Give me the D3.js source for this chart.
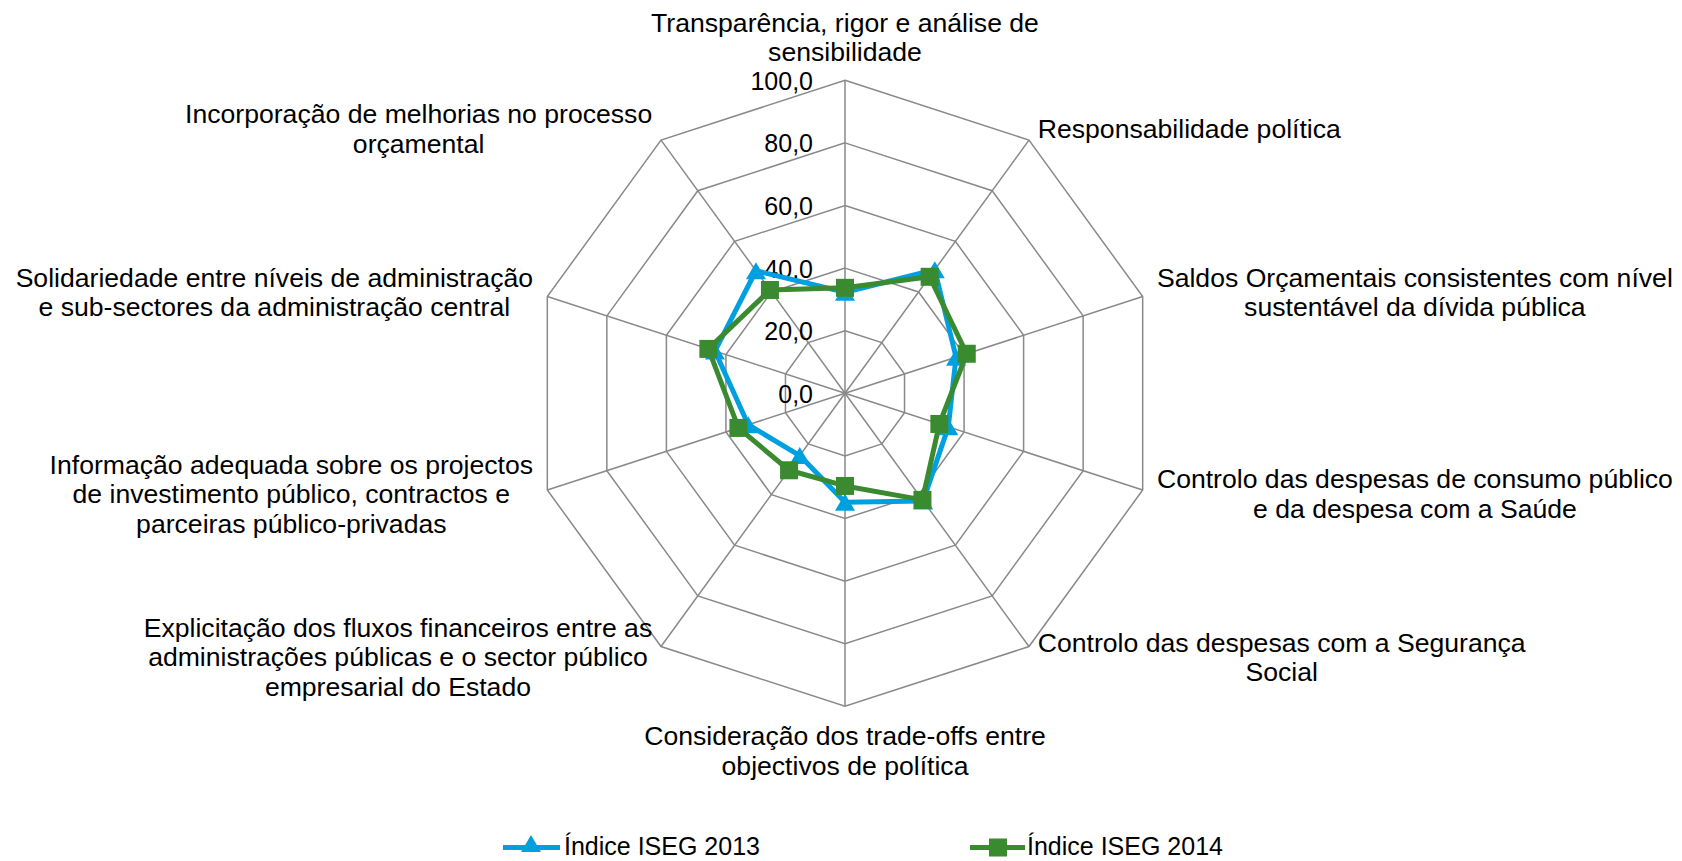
<!DOCTYPE html>
<html>
<head>
<meta charset="utf-8">
<script src="https://cdn.jsdelivr.net/npm/d3@7"></script>
<style>
html, body { margin: 0; padding: 0; background: #ffffff; }
svg { display: block; }
text { font-family: "Liberation Sans", Arial, sans-serif; fill: #000; }
</style>
</head>
<body>
<svg id="chart" width="1682" height="861"></svg>
<script>
const categories = [
  ["Transparência, rigor e análise de", "sensibilidade"],
  ["Responsabilidade política"],
  ["Saldos Orçamentais consistentes com nível", "sustentável da dívida pública"],
  ["Controlo das despesas de consumo público", "e da despesa com a Saúde"],
  ["Controlo das despesas com a Segurança", "Social"],
  ["Consideração dos trade-offs entre", "objectivos de política"],
  ["Explicitação dos fluxos financeiros entre as", "administrações públicas e o sector público", "empresarial do Estado"],
  ["Informação adequada sobre os projectos", "de investimento público, contractos e", "parceiras público-privadas"],
  ["Solidariedade entre níveis de administração", "e sub-sectores da administração central"],
  ["Incorporação de melhorias no processo", "orçamental"]
];
const seriesNames = ["Índice ISEG 2013", "Índice ISEG 2014"];
const values2013 = [32.3, 48.8, 37.3, 34.7, 42.5, 34.8, 24.6, 32.5, 43.7, 48.4];
const values2014 = [33.7, 46.0, 40.9, 31.7, 42.1, 29.6, 30.4, 35.8, 45.9, 40.8];
const tickValues = [0, 20, 40, 60, 80, 100];
const tickLabels = ["0,0", "20,0", "40,0", "60,0", "80,0", "100,0"];

const svg = d3.select("#chart");
const cx = 845, cy = 393.3, R = 313;
const n = categories.length;
const r = d3.scaleLinear().domain([0, 100]).range([0, R]);
const ang = d3.scaleLinear().domain([0, n]).range([0, 2 * Math.PI]);
const gridColor = "#898989";
const blue = "#00A0E0", green = "#3A8B2F";

const g = svg.append("g").attr("transform", `translate(${cx},${cy})`);
const pt = (i, v) => [Math.sin(ang(i)) * r(v), -Math.cos(ang(i)) * r(v)];

// grid polygons
tickValues.slice(1).forEach(t => {
  g.append("path")
    .attr("d", d3.line()(d3.range(n).map(i => pt(i, t))) + "Z")
    .attr("fill", "none").attr("stroke", gridColor).attr("stroke-width", 1.5);
});
// spokes
d3.range(n).forEach(i => {
  const p = pt(i, 100);
  g.append("line").attr("x1", 0).attr("y1", 0).attr("x2", p[0]).attr("y2", p[1])
    .attr("stroke", gridColor).attr("stroke-width", 1.5);
});

// tick labels
tickValues.forEach((t, k) => {
  g.append("text").attr("x", -32).attr("y", -r(t)).attr("dy", "0.38em")
    .attr("text-anchor", "end").style("font-size", "25px").text(tickLabels[k]);
});

// series
const radial = d3.lineRadial().angle((d, i) => ang(i)).radius(d => r(d)).curve(d3.curveLinearClosed);
const triPath = (w, h) => `M0,${-h / 2}L${w / 2},${h / 2}L${-w / 2},${h / 2}Z`;

function drawSeries(vals, color, marker) {
  g.append("path").attr("d", radial(vals)).attr("fill", "none")
    .attr("stroke", color).attr("stroke-width", 5).attr("stroke-linejoin", "round");
  vals.forEach((v, i) => {
    const p = pt(i, v);
    if (marker === "tri") {
      g.append("path").attr("d", triPath(20, 17)).attr("transform", `translate(${p[0]},${p[1]})`).attr("fill", color);
    } else {
      g.append("rect").attr("x", p[0] - 9).attr("y", p[1] - 9).attr("width", 18).attr("height", 18).attr("fill", color);
    }
  });
}
drawSeries(values2013, blue, "tri");
drawSeries(values2014, green, "sq");

// category labels
const L = 29.5;
categories.forEach((lines, i) => {
  const a = ang(i), s = Math.sin(a), c = Math.cos(a);
  const t = svg.append("text").style("font-size", "26.6px").attr("text-anchor", "middle");
  const spans = lines.map(l => t.append("tspan").text(l));
  const maxW = d3.max(spans, sp => sp.node().getComputedTextLength());
  let xc, baselines;
  const k = lines.length;
  if (Math.abs(s) < 0.01) {
    xc = cx;
    if (c > 0) {
      const last = cy - R - 19;
      baselines = lines.map((l, j) => last - (k - 1 - j) * L);
    } else {
      const first = cy + R + 39;
      baselines = lines.map((l, j) => first + j * L);
    }
  } else {
    const edge = cx + (R + 15) * s;
    xc = s > 0 ? edge + maxW / 2 : edge - maxW / 2;
    const yc = cy - (R + 13.5) * c;
    baselines = lines.map((l, j) => yc + (j - (k - 1) / 2) * L + 9);
  }
  spans.forEach((sp, j) => sp.attr("x", xc).attr("y", baselines[j]));
});

// legend
const legY = 847.5;
const leg = svg.append("g");
leg.append("line").attr("x1", 503).attr("x2", 560).attr("y1", legY).attr("y2", legY).attr("stroke", blue).attr("stroke-width", 5);
leg.append("path").attr("d", triPath(20, 17)).attr("transform", `translate(531,${legY - 4})`).attr("fill", blue);
leg.append("text").attr("x", 564).attr("y", 855).style("font-size", "25px").text(seriesNames[0]);
leg.append("line").attr("x1", 970).attr("x2", 1025).attr("y1", legY).attr("y2", legY).attr("stroke", green).attr("stroke-width", 5);
leg.append("rect").attr("x", 998 - 9).attr("y", legY - 9).attr("width", 18).attr("height", 18).attr("fill", green);
leg.append("text").attr("x", 1027).attr("y", 855).style("font-size", "25px").text(seriesNames[1]);
</script>
</body>
</html>
